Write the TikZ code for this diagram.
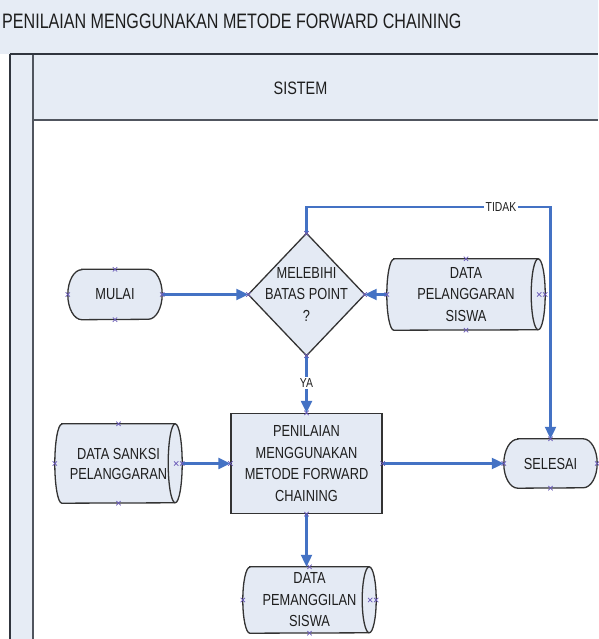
\documentclass[tikz,border=0pt]{standalone}
\usepackage{fontspec}
\newfontfamily\nfont[FakeStretch=0.8]{Liberation Sans}
\newfontfamily\tfont[FakeStretch=0.77]{Liberation Sans}
\usetikzlibrary{arrows.meta,calc}
\definecolor{bandcol}{HTML}{E6ECF5}
\definecolor{shapefill}{HTML}{E4EAF4}
\definecolor{edgecol}{HTML}{333333}
\definecolor{flowcol}{HTML}{4472C4}
\definecolor{cpmark}{HTML}{6A5AB8}
\definecolor{txt}{HTML}{1E1E1E}
\definecolor{rulecol}{HTML}{30353E}
\definecolor{rulegray}{HTML}{50555E}
\pgfdeclarelayer{back}
\pgfdeclarelayer{shapes}
\pgfsetlayers{back,shapes,main}
\newcommand\cylshape[2]{%
  \filldraw[outline] ($(#1.north west)+(7,0)$) -- ($(#1.north east)+(-7,0)$)
    arc[start angle=90,end angle=-90,x radius=7pt,y radius=#2pt]
    -- ($(#1.south west)+(7,0)$)
    arc[start angle=270,end angle=90,x radius=7pt,y radius=#2pt] -- cycle;
  \draw[edgecol,line width=1.3pt] ($(#1.north east)+(-7,0)$)
    arc[start angle=90,end angle=270,x radius=7pt,y radius=#2pt];
}
\newcommand\termshape[2]{%
  \filldraw[outline] ($(#1.north west)+(14,0)$) -- ($(#1.north east)+(-14,0)$)
    arc[start angle=90,end angle=-90,x radius=14pt,y radius=#2pt]
    -- ($(#1.south west)+(14,0)$)
    arc[start angle=270,end angle=90,x radius=14pt,y radius=#2pt] -- cycle;
}
\begin{document}
\begin{tikzpicture}[x=1pt,y=1pt,
  box/.style={draw=none, inner sep=0pt, align=center, text=txt,
    font=\nfont\fontsize{16}{21.5}\selectfont},
  outline/.style={draw=edgecol, fill=shapefill, line width=1.3pt},
  flowline/.style={draw=flowcol, line width=2.2pt, -{Triangle[length=12pt,width=11pt]}},
  lbl/.style={fill=white, inner sep=1.5pt, text=txt, font=\nfont\fontsize{13}{15}\selectfont},
  cpx/.pic={\draw[cpmark, line width=0.7pt] (-2.2pt,-2.2pt)--(2.2pt,2.2pt) (-2.2pt,2.2pt)--(2.2pt,-2.2pt);}
]
\useasboundingbox (0,0) rectangle (598,639);
\begin{pgfonlayer}{back}
  \fill[white] (0,0) rectangle (598,639);
  \fill[bandcol] (0,639) rectangle (598,585);
  \fill[bandcol] (10,585) rectangle (33,0);
  \fill[bandcol] (33,585) rectangle (598,519);
  \draw[rulecol, line width=1.3pt] (10,585) -- (10,0);
  \draw[rulegray, line width=1.3pt] (33,585) -- (33,0);
  \draw[rulegray, line width=1.8pt] (33,519) -- (598,519);
  \draw[rulecol, line width=2pt] (10,585) -- (598,585);
\end{pgfonlayer}

\node[anchor=base west, inner sep=0pt, text=txt, font=\tfont\fontsize{20.9}{24}\selectfont] (title) at (2,610) {PENILAIAN MENGGUNAKAN METODE FORWARD CHAINING};
\node[box, font=\nfont\fontsize{18}{22}\selectfont] (sistem) at (300.5,550.5) {SISTEM};

\node[box, minimum width=94pt, minimum height=50pt] (mulai) at (115,344.5) {MULAI};
\node[box, minimum width=116pt, minimum height=122pt] (dec) at (306.5,344.5) {MELEBIHI\\BATAS POINT\\?};
\node[box, minimum width=158pt, minimum height=71pt] (dpel) at (466,344.5) {DATA\\PELANGGARAN\\SISWA};
\node[box, outline, minimum width=151pt, minimum height=100pt] (proc) at (306.5,175.5) {PENILAIAN\\MENGGUNAKAN\\METODE FORWARD\\CHAINING};
\node[box, font=\nfont\fontsize{16}{20}\selectfont, minimum width=127pt, minimum height=79pt] (dsank) at (118.5,175.5) {DATA SANKSI\\PELANGGARAN};
\node[box, minimum width=93pt, minimum height=49pt] (selesai) at (550.5,175.5) {SELESAI};
\node[box, minimum width=133pt, minimum height=66pt] (dpem) at (309.5,39) {DATA\\PEMANGGILAN\\SISWA};

\begin{pgfonlayer}{shapes}
  \termshape{mulai}{25}
  \termshape{selesai}{24.5}
  \filldraw[outline] (dec.north) -- (dec.east) -- (dec.south) -- (dec.west) -- cycle;
  \cylshape{dpel}{35.5}
  \cylshape{dsank}{39.5}
  \cylshape{dpem}{33}
\end{pgfonlayer}

\coordinate (tk) at (306.5,432);
\draw[flowline] (mulai.east) -- (dec.west);
\draw[flowline] (dpel.west) -- (dec.east);
\draw[flowline] (dec.south) -- (proc.north);
\draw[flowline] (dec.north) -- (tk) -| (selesai.north);
\draw[flowline] (dsank.east) -- (proc.west);
\draw[flowline] (proc.east) -- (selesai.west);
\draw[flowline] (proc.south) -- (proc.south |- dpem.north);
\node[lbl] (tidak) at (501,432) {TIDAK};
\node[lbl] (ya) at (306.5,256) {YA};

\foreach \n in {mulai,dec,dpel,proc,dsank,selesai,dpem}{
  \pic at (\n.north) {cpx};
  \pic at (\n.south) {cpx};
  \pic at (\n.east) {cpx};
  \pic at (\n.west) {cpx};
}
\foreach \n in {dpel,dsank,dpem}{
  \pic at ($(\n.east)+(-6,0)$) {cpx};
}
\end{tikzpicture}
\end{document}
